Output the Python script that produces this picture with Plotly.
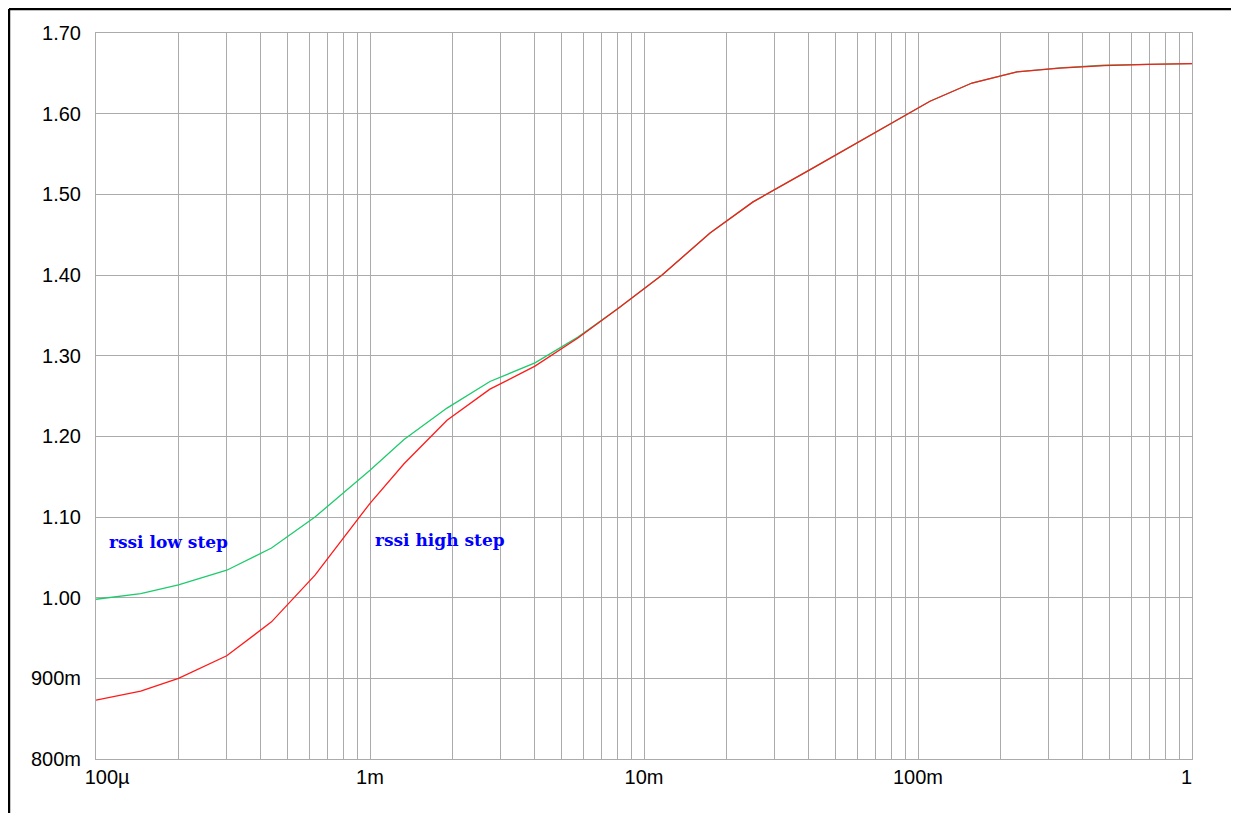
import math
import plotly.graph_objects as go

# sweep points (log axis)
x_vals = [1.0e-4, 1.456e-4, 2.0e-4, 3.0e-4, 4.37e-4, 6.30e-4, 1.0e-3, 1.331e-3,
          1.91e-3, 2.74e-3, 4.0e-3, 5.74e-3, 8.04e-3, 1.164e-2, 1.742e-2, 2.50e-2,
          4.04e-2, 5.97e-2, 9.09e-2, 0.1106, 0.1574, 0.2297, 0.3296, 0.477, 0.690, 1.0]

rssi_low_step = [0.998, 1.005, 1.016, 1.034, 1.0615, 1.100, 1.158, 1.196,
                 1.235, 1.268, 1.291, 1.323, 1.3585, 1.400, 1.452, 1.4906,
                 1.5307, 1.5637, 1.5993, 1.6154, 1.638, 1.6517, 1.6568, 1.6600, 1.6612, 1.662]

rssi_high_step = [0.873, 0.884, 0.900, 0.928, 0.970, 1.028, 1.117, 1.166,
                  1.220, 1.2585, 1.287, 1.322, 1.3585, 1.400, 1.452, 1.4906,
                  1.5307, 1.5637, 1.5993, 1.6154, 1.638, 1.6517, 1.6565, 1.6595, 1.661, 1.662]

x_tick_vals = [1e-4, 1e-3, 1e-2, 1e-1, 1]
x_tick_text = ["\u00a0\u00a0\u00a0\u00a0100µ", "1m", "10m", "100m", "1\u00a0\u00a0"]
y_tick_vals = [0.8, 0.9, 1.0, 1.1, 1.2, 1.3, 1.4, 1.5, 1.6, 1.7]
y_tick_text = ["800m", "900m", "1.00", "1.10", "1.20", "1.30", "1.40", "1.50", "1.60", "1.70"]

labels = ["rssi low step", "rssi high step"]
label_x = [1.097e-4, 1.026e-3]
label_y = [1.069, 1.0714]

grid_col = "#ababab"

fig = go.Figure()
fig.add_trace(go.Scatter(x=x_vals, y=rssi_low_step, mode="lines",
                         line=dict(color="#1ecb6c", width=1.3), name=labels[0]))
fig.add_trace(go.Scatter(x=x_vals, y=rssi_high_step, mode="lines",
                         line=dict(color="#ff1a1a", width=1.3), name=labels[1]))

for t, lx, ly in zip(labels, label_x, label_y):
    fig.add_annotation(x=math.log10(lx), y=ly, xref="x", yref="y", text=t, showarrow=False,
                       xanchor="left", yanchor="middle",
                       font=dict(family="DejaVu Serif", size=17, color="#0000ff", weight="bold"))

fig.update_layout(
    width=1231, height=805,
    margin=dict(l=88, r=47, t=25, b=54),
    paper_bgcolor="white", plot_bgcolor="white",
    showlegend=False,
    font=dict(family="Liberation Sans, Arial", size=20, color="black"),
    xaxis=dict(type="log", range=[-4, 0], tickvals=x_tick_vals, ticktext=x_tick_text,
               showgrid=True, gridcolor=grid_col, gridwidth=1,
               minor=dict(dtick="D1", showgrid=True, gridcolor=grid_col, gridwidth=1, ticks=""),
               zeroline=False, showline=True, linecolor=grid_col, mirror=True,
               ticks="", ticklen=0),
    yaxis=dict(range=[0.8, 1.7], tickvals=y_tick_vals, ticktext=y_tick_text,
               showgrid=True, gridcolor=grid_col, gridwidth=1,
               zeroline=False, showline=True, linecolor=grid_col, mirror=True,
               ticks="outside", ticklen=10, tickcolor="rgba(0,0,0,0)"),
)

# outer frame (left and top edges of the surrounding box)
fig.add_shape(type="line", xref="paper", yref="paper", x0=-0.0794, x1=-0.0794, y0=-0.08, y1=1.0331,
              line=dict(color="black", width=2.5))
fig.add_shape(type="line", xref="paper", yref="paper", x0=-0.0794, x1=1.05, y0=1.0331, y1=1.0331,
              line=dict(color="black", width=2.5))

fig.write_html("out.html")
